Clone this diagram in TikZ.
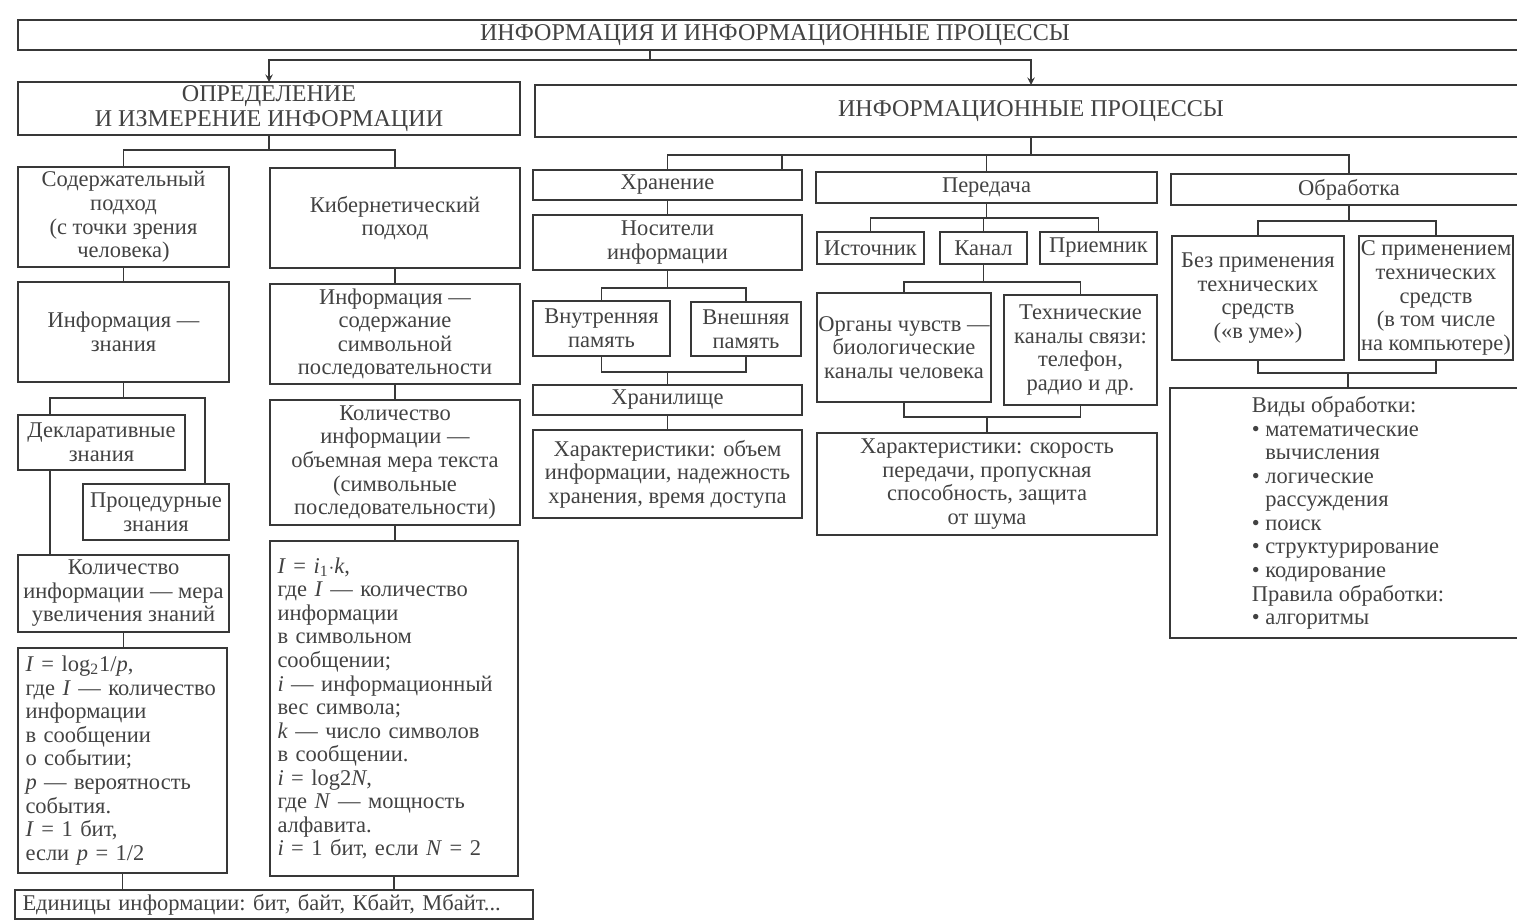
\documentclass[tikz,border=0pt]{standalone}
\usepackage{fontspec}
\setmainfont{Liberation Serif}
\definecolor{linecolor}{gray}{0.22}
\definecolor{inkcolor}{gray}{0.26}
\newcommand\boxfont{\fontsize{12.8}{13.4}\selectfont}
\newcommand\capsfont{\fontsize{13.7}{14}\selectfont}

\begin{document}
\begin{tikzpicture}[
	x=0.2mm, y=-0.2mm,
	color=linecolor, line width=0.9pt, >=stealth,
	block/.style={rectangle, draw, inner xsep=2pt, inner ysep=0.5pt, align=center, text=inkcolor},
	heading/.style={font=\capsfont, inner ysep=0pt},
	flush/.style={align=left, text width=\tw mm, inner xsep=1.5mm},
	every node/.style={outer sep=0pt, font=\boxfont},
]
\path[use as bounding box, clip] (0,0) rectangle (1517,921);
% \block{left}{top}{right}{bottom}[options](name){text}.
% Edges are given in pixels of the scanned chart.
\def\block#1#2#3#4[#5](#6)#7{
	\pgfmathsetmacro\bw{(#3-#1)*0.2}
	\pgfmathsetmacro\bh{(#4-#2)*0.2}
	\pgfmathsetmacro\tw{\bw-3}
	\node[block, minimum width=\bw mm, minimum height=\bh mm, #5]
		at ({(#1+#3)/2},{(#2+#4)/2}) (#6) {#7};
}
% \connect{parent}{drop}{child}: down from parent by 'drop', then
% across and down to child.
\def\connect#1#2#3{
	\draw (#1.south) -- ++(0,#2) -| (#3.north);
}
	\block{18}{20}{1532}{50}[heading](top){ИНФОРМАЦИЯ И ИНФОРМАЦИОННЫЕ ПРОЦЕССЫ}
	\block{18}{82}{520}{135}[heading](DM){ОПРЕДЕЛЕНИЕ\\И ИЗМЕРЕНИЕ ИНФОРМАЦИИ}
	\block{535}{85}{1527}{137}[heading](IP){ИНФОРМАЦИОННЫЕ ПРОЦЕССЫ}
	\coordinate (topstub) at (650,60);
	\draw (top.south -| topstub) -- (topstub);
	\draw[->] (topstub) -| (DM.north);
	\draw[->] (topstub) -| (IP.north);

	% Definition and measurement
	\block{18}{167}{229}{267}[](CA){Содержательный\\подход\\(с точки зрения\\человека)}
	\block{270}{168}{520}{268}[](KA){Кибернетический\\подход}
	\connect{DM}{15}{CA}
	\connect{DM}{15}{KA}
	\block{18}{282}{229}{382}[](IK){Информация —\\знания}
	\block{270}{284}{520}{384}[](IS)
		{Информация —\\содержание\\символьной\\последовательности}
	\draw (CA.south) -- (IK.north);
	\draw (KA.south) -- (IS.north);
	\block{18}{415}{185}{470}[](DK){Декларативные\\знания}
	\block{83}{484}{229}{540}[](PK){Процедурные\\знания}
	\draw (IK.south) -- ++(0,16) -| ([shift={(32,0)}]DK.north west);
	\draw (IK.south) -- ++(0,16) -| ([shift={(-24,0)}]PK.north east);
	\block{18}{555}{229}{632}[inner xsep=1pt](QK){Количество\\информации — мера\\увеличения знаний}
	\draw ([shift={(32,0)}]DK.south west) coordinate (dkfoot) -- (dkfoot |- QK.north);
	\block{270}{400}{520}{525}[](QS){Количество\\информации —\\объемная мера текста\\(символьные\\последовательности)}
	\draw (IS.south) -- (QS.north);
	\block{18}{648}{227}{873}[flush](F1){\textit{I}~=~log\textsubscript{2}1/\textit{p},\\
		где~\textit{I}~—~количество\\информации\\в~сообщении\\о~событии;\\
		\textit{p}~—~вероятность\\события.\\\textit{I}~=~1~бит,\\если~\textit{p}~=~1/2}
	\block{270}{541}{518}{876}[flush, inner xsep=1.2mm](F2){\textit{I}~=~\textit{i}\textsubscript{1}$\cdot$\textit{k},\\
		где~\textit{I}~—~количество\\информации\\в~символьном\\сообщении;\\
		\textit{i}~—~информационный\\вес~символа;\\\textit{k}~—~число~символов\\
		в~сообщении.\\\textit{i}~=~log2\textit{N},\\где~\textit{N}~—~мощность\\
		алфавита.\\\textit{i}~=~1~бит,~если~\textit{N}~=~2}
	\draw (QK.south) -- (QK.south |- F1.north);
	\draw (QS.south) -- (QS.south |- F2.north);
	\block{15}{890}{533}{919}[flush, inner xsep=1.2mm](U){Единицы~информации:~бит,~байт,~Кбайт,~Мбайт...}
	\draw (F1.south) -- (F1.south |- U.north);
	\draw (F2.south) -- (F2.south |- U.north);

	% Information processes
	\block{533}{170}{802}{200}[](ST){Хранение}
	\block{816}{172}{1157}{203}[](TR){Передача}
	\block{1171}{174}{1527}{205}[](PR){Обработка}
	\connect{IP}{18}{ST}
	\connect{IP}{18}{TR}
	\connect{IP}{18}{PR}
	\coordinate (ststub) at (782,155);
	\draw (ststub) -- (ststub |- ST.north);

	% Storage
	\block{533}{215}{802}{270}[](CR){Носители\\информации}
	\draw (ST.south) -- (CR.north);
	\block{533}{301}{670}{356}[](IM){Внутренняя\\память}
	\block{691}{302}{801}{356}[](EM){Внешняя\\память}
	\connect{CR}{18}{IM}
	\connect{CR}{18}{EM}
	\block{533}{385}{802}{415}[](SF){Хранилище}
	\draw (IM.south) -- ++(0,16) -| (EM.south);
	\draw (SF.north) -- ++(0,-13);
	\block{533}{430}{802}{518}[](CS){Характеристики: объем\\информации, надежность\\хранения, время доступа}
	\draw (SF.south) -- (CS.north);

	% Transfer
	\block{817}{232}{924}{264}[](SR){Источник}
	\block{940}{232}{1027}{264}[](CH){Канал}
	\block{1040}{232}{1157}{264}[](RC){Приемник}
	\connect{TR}{15}{SR}
	\connect{TR}{15}{CH}
	\connect{TR}{15}{RC}
	\block{817}{293}{991}{402}[inner xsep=0.5pt](OS){Органы чувств —\\биологические\\каналы человека}
	\block{1004}{295}{1157}{405}[](TC){Технические\\каналы связи:\\телефон,\\радио и др.}
	\connect{CH}{18}{OS}
	\connect{CH}{18}{TC}
	\block{817}{433}{1157}{535}[](CT){Характеристики: скорость\\передачи, пропускная\\способность, защита\\от шума}
	\draw (OS.south) -- ++(0,15) -| (TC.south);
	\draw (CT.north) -- ++(0,-16);

	% Processing
	\block{1172}{236}{1344}{360}[](NT){Без применения\\технических\\средств\\(«в уме»)}
	\block{1359}{236}{1513}{360}[inner xsep=0.5pt](WT){С применением\\технических\\средств\\(в том числе\\на компьютере)}
	\connect{PR}{16}{NT}
	\connect{PR}{16}{WT}
	\block{1170}{388}{1526}{638}[align=left](KP){Виды обработки:\\• математические\\\hphantom{• }вычисления\\
		• логические\\\hphantom{• }рассуждения\\• поиск\\• структурирование\\• кодирование\\
		Правила обработки:\\• алгоритмы}
	\draw (NT.south) -- ++(0,13) -| (WT.south);
	\draw (KP.north) -- ++(0,-15);
\end{tikzpicture}
\end{document}
